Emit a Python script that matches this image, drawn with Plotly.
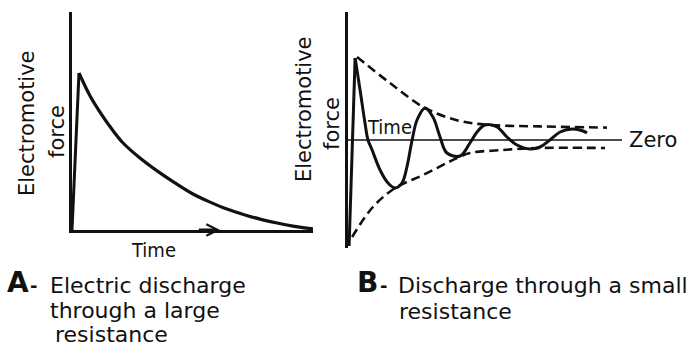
import plotly.graph_objects as go

W, H = 690, 347

# ---- Panel A: discharge through a large resistance ----
a_rise_t = [0.0, 0.29]
a_rise_emf = [0.0, 7.2]
a_decay_t = [0.29, 0.54, 0.75, 1.16, 1.62, 2.12, 2.82, 3.53, 4.27, 5.02,
             5.73, 6.43, 7.18, 7.80, 8.51, 9.17, 10.0]
a_decay_emf = [7.2, 6.61, 6.15, 5.41, 4.68, 3.99, 3.30, 2.71, 2.16, 1.65,
               1.28, 0.96, 0.69, 0.50, 0.32, 0.18, 0.05]

# ---- Panel B: discharge through a small resistance ----
b_rise_t = [0.04, 0.26]
b_rise_emf = [-5.3, 4.1]
b_osc_t = [0.26, 0.44, 0.62, 0.73, 0.88, 1.17, 1.46, 1.72, 1.97, 2.15, 2.34,
           2.52, 2.81, 3.10, 3.36, 3.61, 4.09, 4.45, 4.71, 5.0, 5.44, 5.80,
           6.17, 6.64, 7.01, 7.37, 7.74, 8.21, 8.58, 8.72]
b_osc_emf = [4.1, 2.5, 0.85, 0.0, -0.5, -1.5, -2.15, -2.4, -2.15, -1.35, 0.0,
             1.0, 1.6, 1.15, 0.15, -0.65, -0.8, -0.15, 0.4, 0.75, 0.65, 0.15,
             -0.25, -0.45, -0.35, 0.0, 0.4, 0.55, 0.45, 0.35]
b_upper_t = [0.33, 1.53, 2.81, 4.09, 5.18, 7.0, 9.45]
b_upper_emf = [4.15, 2.85, 1.6, 0.95, 0.75, 0.68, 0.62]
b_lower_t = [0.15, 0.91, 1.72, 2.74, 3.98, 4.45, 5.66, 6.90, 9.38]
b_lower_emf = [-4.85, -3.35, -2.4, -1.75, -0.9, -0.65, -0.5, -0.4, -0.4]
b_zero_t = [0.0, 10.0]
b_zero_emf = [0.0, 0.0]

INK = "#111111"
FONT = "DejaVu Sans, sans-serif"
NARROW = "Liberation Sans Narrow, DejaVu Sans Condensed, Arial Narrow, sans-serif"


def px(x):
    return x / W


def py(y):
    return 1 - y / H


fig = go.Figure()

# Panel A curves
fig.add_trace(go.Scatter(x=a_rise_t, y=a_rise_emf, mode="lines",
                         line=dict(color=INK, width=3), xaxis="x", yaxis="y"))
fig.add_trace(go.Scatter(x=a_decay_t, y=a_decay_emf, mode="lines",
                         line=dict(color=INK, width=3.2, shape="spline", smoothing=1.0),
                         xaxis="x", yaxis="y"))

# Panel B curves
fig.add_trace(go.Scatter(x=b_zero_t, y=b_zero_emf, mode="lines",
                         line=dict(color=INK, width=1.6), xaxis="x2", yaxis="y2"))
fig.add_trace(go.Scatter(x=b_upper_t, y=b_upper_emf, mode="lines",
                         line=dict(color=INK, width=2.6, dash="9px,5px", shape="spline"),
                         xaxis="x2", yaxis="y2"))
fig.add_trace(go.Scatter(x=b_lower_t, y=b_lower_emf, mode="lines",
                         line=dict(color=INK, width=2.6, dash="9px,5px", shape="spline"),
                         xaxis="x2", yaxis="y2"))
fig.add_trace(go.Scatter(x=b_rise_t, y=b_rise_emf, mode="lines",
                         line=dict(color=INK, width=3), xaxis="x2", yaxis="y2"))
fig.add_trace(go.Scatter(x=b_osc_t, y=b_osc_emf, mode="lines",
                         line=dict(color=INK, width=3, shape="spline", smoothing=1.0),
                         xaxis="x2", yaxis="y2"))

hidden = dict(showgrid=False, zeroline=False, showticklabels=False, ticks="")

annotations = []


def label(text, x, y, size, angle=0, xanchor="center", family=FONT):
    annotations.append(dict(text=text, x=px(x), y=py(y), xref="paper", yref="paper",
                            showarrow=False, textangle=angle, xanchor=xanchor,
                            yanchor="middle", font=dict(family=family, size=size, color=INK)))


# Arrow on the time axis of panel A
annotations.append(dict(x=6.15, y=0, ax=5.2, ay=0, xref="x", yref="y", axref="x", ayref="y",
                        showarrow=True, arrowhead=5, arrowsize=0.8, arrowwidth=2.8,
                        arrowcolor=INK, text=""))

# Axis titles
label("Electromotive", 27, 123, 21, angle=-90)
label("force", 57, 132, 21, angle=-90)
label("Electromotive", 304, 109, 21, angle=-90)
label("force", 332, 124, 21, angle=-90)
label("Time", 153, 250, 20, family=NARROW)
label("Time", 390, 127, 20, family=NARROW)
label("Zero", 627, 140, 21, xanchor="left")

# Captions
label("<b>A</b>", 5, 282, 28, xanchor="left")
label("<b>-</b>", 28, 285, 18, xanchor="left")
label("Electric discharge", 48, 285, 22, xanchor="left")
label("through a large", 48, 310, 22, xanchor="left")
label("resistance", 53, 334, 22, xanchor="left")
label("<b>B</b>", 355, 282, 28, xanchor="left")
label("<b>-</b>", 378, 285, 18, xanchor="left")
label("Discharge through a small", 396, 285, 22, xanchor="left")
label("resistance", 397, 311, 22, xanchor="left")

fig.update_layout(
    width=W, height=H,
    margin=dict(l=0, r=0, t=0, b=0),
    paper_bgcolor="white", plot_bgcolor="rgba(0,0,0,0)",
    showlegend=False,
    xaxis=dict(domain=[px(72), px(313)], range=[0, 10], showline=True,
               linecolor=INK, linewidth=3, anchor="y", **hidden),
    yaxis=dict(domain=[py(230), py(12)], range=[0, 10], showline=True,
               linecolor=INK, linewidth=3, anchor="x", **hidden),
    xaxis2=dict(domain=[px(348), px(622)], range=[0, 10], showline=False,
                anchor="y2", **hidden),
    yaxis2=dict(domain=[py(248), py(12)], range=[-5.4, 6.4], showline=True,
                linecolor=INK, linewidth=3, anchor="x2", **hidden),
    annotations=annotations,
)

fig.write_html("out.html")
